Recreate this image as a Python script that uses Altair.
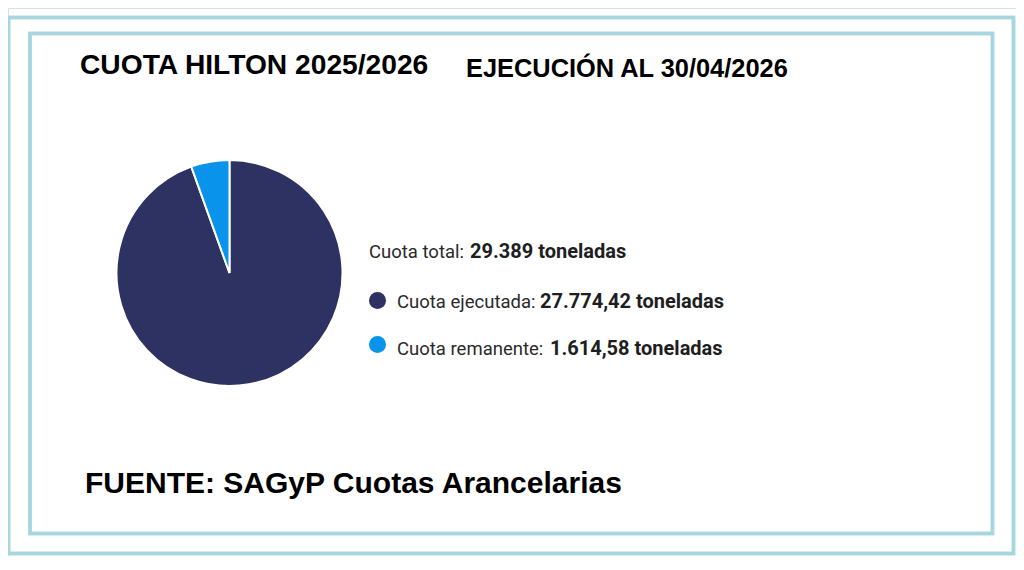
import altair as alt
import pandas as pd

# ---- data ----
categories = ["Cuota ejecutada", "Cuota remanente"]
values = [27774.42, 1614.58]
colors = ["#2e3262", "#0a93ea"]
total_label = "29.389 toneladas"
value_labels = ["27.774,42 toneladas", "1.614,58 toneladas"]
title_left = "CUOTA HILTON 2025/2026"
title_right = "EJECUCIÓN AL 30/04/2026"
source = "FUENTE: SAGyP Cuotas Arancelarias"

df = pd.DataFrame({"cat": categories, "val": values, "order": [0, 1]})

W, H = 1008, 548
OFF = 8  # page margin
border_col = "#a8d6df"
HEAD = "Liberation Sans, Arial, sans-serif"
BODY = "Roboto, sans-serif"


def P(v):
    return alt.value(v - OFF)


def rect(x1, y1, x2, y2):
    return alt.Chart(df).mark_rect(fill=None, stroke=border_col, strokeWidth=3.5).encode(
        x=P(x1), x2=P(x2), y=P(y1), y2=P(y2)
    )


def text(t, x, y, size, weight="normal", font=BODY, color="#2a2a2a"):
    return alt.Chart(df.head(1)).mark_text(
        text=t, align="left", baseline="alphabetic", fontSize=size,
        fontWeight=weight, font=font, color=color
    ).encode(x=P(x), y=P(y))


outer = rect(8.5, 17.5, 1013.5, 553.5)
inner = rect(30, 33.5, 992.5, 533.5)

color_enc = alt.Color("cat:N", scale=alt.Scale(domain=categories, range=colors), legend=None)

pie = alt.Chart(df).mark_arc(outerRadius=113, stroke="white", strokeWidth=2).encode(
    theta=alt.Theta("val:Q", stack=True),
    order=alt.Order("order:Q"),
    color=color_enc,
    x=P(229.5), y=P(273),
)

dots = alt.Chart(df).mark_circle(size=290, opacity=1).encode(
    x=P(377.5),
    y=alt.Y("cat:N", scale=alt.Scale(domain=categories, range=[300.5 - OFF, 344.5 - OFF], padding=0),
            axis=None),
    color=color_enc,
)

layers = [
    outer, inner, pie, dots,
    text(title_left, 80, 74, 28.2, "bold", HEAD, "black"),
    text(title_right, 466, 77, 25.4, "bold", HEAD, "black"),
    text(source, 85, 493, 30, "bold", HEAD, "black"),
    text("Cuota total:", 369, 258, 18.5),
    text(total_label, 470, 258, 20, "bold", color="#1e1e1e"),
    text("Cuota ejecutada:", 397, 308, 18.5),
    text(value_labels[0], 540, 308, 20, "bold", color="#1e1e1e"),
    text("Cuota remanente:", 397, 355, 18.5),
    text(value_labels[1], 550, 355, 20, "bold", color="#1e1e1e"),
]

chart = alt.layer(*layers).properties(
    width=W, height=H, padding=0, autosize=alt.AutoSizeParams(type="none")
).configure_view(stroke=None).configure(background="white")

chart.save("out.html", embed_options={"renderer": "svg", "actions": False})
